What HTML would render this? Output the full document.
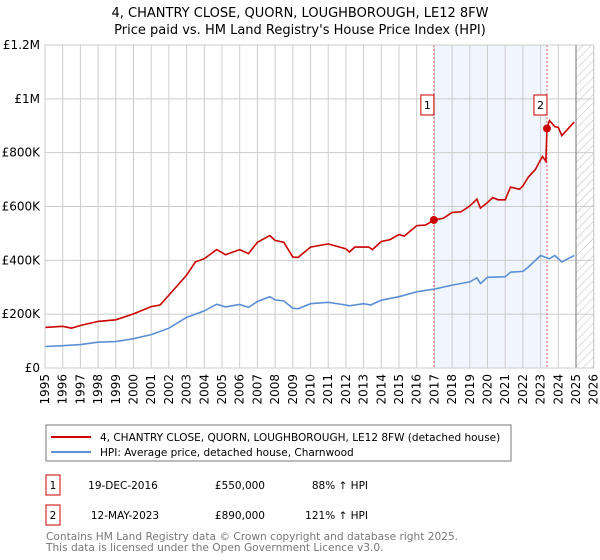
<!DOCTYPE html>
<html><head><meta charset="utf-8">
<style>
body{margin:0;background:#fff;font-family:"Liberation Sans","DejaVu Sans",sans-serif;}
svg{display:block}
text{font-family:"DejaVu Sans","Liberation Sans",sans-serif;}
</style></head>
<body>
<svg id="chart" width="600" height="560" viewBox="0 0 600 560">
<defs>
<pattern id="hatch" width="6" height="6" patternUnits="userSpaceOnUse" patternTransform="rotate(45)">
<line x1="0" y1="0" x2="0" y2="6" stroke="#bbb" stroke-width="1"/>
</pattern>
</defs>
<text x="300" y="17" text-anchor="middle" font-size="13" fill="#000">4, CHANTRY CLOSE, QUORN, LOUGHBOROUGH, LE12 8FW</text>
<text x="300" y="34" text-anchor="middle" font-size="13" fill="#000">Price paid vs. HM Land Registry's House Price Index (HPI)</text>
<g id="plot"></g>
<g>
<rect x="46" y="425" width="465" height="36" fill="#fff" stroke="#777" stroke-width="1"/>
<line x1="51" y1="437" x2="91" y2="437" stroke="#cc0000" stroke-width="2"/>
<text x="100" y="441" font-size="10.5">4, CHANTRY CLOSE, QUORN, LOUGHBOROUGH, LE12 8FW (detached house)</text>
<line x1="51" y1="452" x2="91" y2="452" stroke="#5b8fd6" stroke-width="2"/>
<text x="100" y="456" font-size="10.5">HPI: Average price, detached house, Charnwood</text>
</g>
<g font-size="10.5">
<rect x="46" y="475" width="14" height="20" fill="#fff" stroke="#cc0000"/>
<text x="53" y="489" text-anchor="middle">1</text>
<text x="123" y="489" text-anchor="middle">19-DEC-2016</text>
<text x="265" y="489" text-anchor="end">£550,000</text>
<text x="368" y="489" text-anchor="end">88% ↑ HPI</text>
<rect x="46" y="505" width="14" height="20" fill="#fff" stroke="#cc0000"/>
<text x="53" y="519" text-anchor="middle">2</text>
<text x="125" y="519" text-anchor="middle">12-MAY-2023</text>
<text x="265" y="519" text-anchor="end">£890,000</text>
<text x="368" y="519" text-anchor="end">121% ↑ HPI</text>
</g>
<text x="46" y="540" font-size="10.6" fill="#777">Contains HM Land Registry data © Crown copyright and database right 2025.</text>
<text x="46" y="551" font-size="10.6" fill="#777">This data is licensed under the Open Government Licence v3.0.</text>
</svg>
<script>
const redYears=[1995,1996,1996.5,1997,1998,1999,2000,2001,2001.5,2002,2002.5,2003,2003.5,2004,2004.7,2005.2,2006,2006.5,2007,2007.7,2008,2008.5,2009,2009.3,2010,2010.5,2011,2012,2012.2,2012.5,2013.3,2013.5,2014,2014.5,2015,2015.3,2016,2016.5,2016.97,2017.5,2018,2018.5,2019,2019.4,2019.6,2020,2020.3,2020.6,2021,2021.3,2021.8,2022,2022.3,2022.7,2023.1,2023.3,2023.36,2023.5,2023.8,2024.0,2024.2,2024.5,2024.9];
const redValues=[151,155,148,158,173,179,201,228,234,271,308,345,394,406,440,421,440,425,467,492,474,467,412,411,449,455,461,443,431,449,449,440,470,477,496,490,529,531,550,556,578,580,602,627,594,615,633,625,625,672,664,676,709,737,786,768,892,919,897,894,863,885,914];
const hpiYears=[1995,1996,1997,1998,1999,2000,2001,2002,2003,2004,2004.7,2005.2,2006,2006.5,2007,2007.7,2008,2008.5,2009,2009.3,2010,2011,2012,2012.2,2013,2013.4,2014,2015,2016,2017,2018,2019,2019.4,2019.6,2020,2021,2021.3,2022,2022.3,2023,2023.5,2023.8,2024.2,2024.9];
const hpiValues=[80,83,87,96,98,109,124,148,188,212,237,227,236,225,247,265,253,249,222,220,239,244,234,231,239,234,252,265,283,293,308,320,335,314,337,339,356,359,375,418,406,418,394,418];
const saleYears=[2016.97,2023.36];
const saleValues=[550,890];
const saleLabels=["1","2"];
const yTicks=[0,200,400,600,800,1000,1200];
const yTickLabels=["£0","£200K","£400K","£600K","£800K","£1M","£1.2M"];
const xTicks=[1995,1996,1997,1998,1999,2000,2001,2002,2003,2004,2005,2006,2007,2008,2009,2010,2011,2012,2013,2014,2015,2016,2017,2018,2019,2020,2021,2022,2023,2024,2025,2026];

const X0=45,PX=17.7,Y0=368,YT=45;
const xs=y=>X0+(y-1995)*PX;
const ys=v=>Y0-(v/1200)*(Y0-YT);
const NS='http://www.w3.org/2000/svg';
const g=document.getElementById('plot');
function mk(tag,attrs){const e=document.createElementNS(NS,tag);for(const k in attrs)e.setAttribute(k,attrs[k]);g.appendChild(e);return e;}
const R=xs(2026);
let e=mk('rect',{x:xs(saleYears[0]),y:YT,width:xs(saleYears[1])-xs(saleYears[0]),height:Y0-YT,fill:'#eef3fc',opacity:0.8});


e=mk('rect',{x:xs(2025),y:YT,width:R-xs(2025),height:Y0-YT,fill:'url(#hatch)'});


xTicks.forEach((t,i)=>{
 let l=mk('line',{x1:xs(t),x2:xs(t),y1:YT,y2:Y0,stroke:'#ccc','stroke-width':1});
 
 
 let tx=mk('text',{x:0,y:0,'font-size':12,'text-anchor':'end',transform:`translate(${xs(t)+4},${Y0+6}) rotate(-90)`});
 tx.textContent=t;
 
 
});
yTicks.forEach((t,i)=>{
 let l=mk('line',{x1:X0,x2:R,y1:ys(t),y2:ys(t),stroke:'#ccc','stroke-width':1});
 
 
 let tx=mk('text',{x:X0-5,y:ys(t)+4,'font-size':12,'text-anchor':'end'});
 tx.textContent=yTickLabels[i];
 
 
});
e=mk('line',{x1:xs(2025),x2:xs(2025),y1:YT,y2:Y0,stroke:'#888','stroke-width':1.2});


saleYears.forEach((s,i)=>{
 let l=mk('line',{x1:xs(s),x2:xs(s),y1:YT,y2:Y0,stroke:'#e06060','stroke-width':1,'stroke-dasharray':'2,2'});
 
 
});
const pts=(a,b)=>a.map((y,i)=>xs(y).toFixed(1)+','+ys(b[i]).toFixed(1)).join(' ');
e=mk('polyline',{points:pts(hpiYears,hpiValues),fill:'none',stroke:'#5b8fd6','stroke-width':1.6});


e=mk('polyline',{points:pts(redYears,redValues),fill:'none',stroke:'#cc0000','stroke-width':1.6});


saleYears.forEach((s,i)=>{
 let c=mk('circle',{cx:xs(s),cy:ys(saleValues[i]),r:4,fill:'#cc0000'});
 
 
 let b=mk('rect',{x:xs(s)-13,y:95,width:13,height:20,fill:'#fff',stroke:'#cc0000'});
 
 
 let t=mk('text',{x:xs(s)-6.5,y:109,'font-size':11,'text-anchor':'middle'});
 t.textContent=saleLabels[i];
 
 
});
e=mk('rect',{x:X0,y:YT,width:R-X0,height:Y0-YT,fill:'none',stroke:'#ccc'});


</script>
</body></html>
